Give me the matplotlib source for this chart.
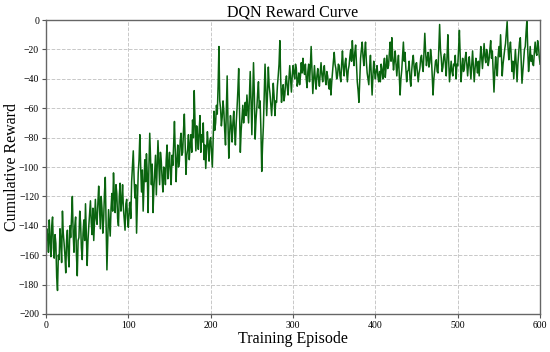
import matplotlib
matplotlib.use("Agg")
import matplotlib.pyplot as plt

# Episodes 0..600
episodes = list(range(0, 601))

rewards = [
    # 0-19
    -155, -142, -147, -158, -136, -150, -161, -140, -134, -155,
    -162, -146, -152, -175, -184, -160, -163, -142, -150, -165,
    # 20-39
    -130, -145, -152, -160, -172, -150, -143, -160, -168, -140,
    -148, -135, -120, -145, -158, -140, -134, -160, -174, -150,
    # 40-59
    -148, -130, -138, -155, -163, -145, -136, -150, -125, -145,
    -167, -150, -140, -132, -123, -138, -146, -128, -150, -135,
    # 60-79
    -122, -135, -139, -125, -113, -128, -142, -120, -128, -145,
    -136, -118, -107, -140, -170, -150, -129, -138, -147, -128,
    # 80-99
    -118, -130, -104, -120, -131, -112, -118, -135, -140, -120,
    -111, -130, -124, -112, -128, -136, -143, -125, -122, -135,
    # 100-119
    -141, -130, -124, -135, -110, -100, -89, -108, -121, -112,
    -145, -125, -104, -95, -78, -100, -117, -102, -130, -112,
    # 120-139
    -95, -110, -91, -105, -131, -100, -77, -95, -112, -98,
    -131, -115, -104, -92, -119, -100, -82, -98, -112, -90,
    # 140-159
    -96, -108, -117, -100, -101, -112, -95, -85, -108, -98,
    -90, -104, -112, -92, -99, -85, -69, -90, -110, -95,
    # 160-179
    -85, -100, -96, -82, -77, -92, -90, -75, -64, -85,
    -105, -92, -88, -78, -95, -85, -78, -90, -68, -80,
    # 180-199
    -48, -70, -89, -72, -79, -88, -75, -65, -90, -78,
    -83, -70, -95, -85, -101, -88, -76, -85, -96, -82,
    # 200-219
    -80, -90, -100, -80, -62, -75, -70, -58, -64, -45,
    -18, -55, -60, -72, -66, -55, -62, -75, -85, -60,
    # 220-239
    -38, -70, -94, -78, -65, -72, -83, -70, -62, -75,
    -85, -70, -60, -48, -33, -62, -90, -75, -66, -58,
    # 240-259
    -70, -62, -56, -65, -51, -60, -70, -52, -35, -55,
    -78, -55, -29, -50, -81, -68, -60, -50, -42, -60,
    # 260-279
    -55, -75, -103, -85, -72, -50, -30, -48, -65, -50,
    -32, -45, -50, -58, -65, -55, -43, -52, -65, -55,
    # 280-299
    -56, -45, -38, -30, -14, -40, -56, -48, -44, -55,
    -51, -42, -38, -46, -51, -40, -31, -40, -49, -38,
    # 300-319
    -31, -36, -40, -30, -33, -45, -42, -36, -44, -38,
    -29, -36, -26, -34, -37, -30, -40, -46, -35, -30,
    # 320-339
    -42, -32, -18, -35, -50, -40, -31, -40, -47, -38,
    -33, -40, -45, -36, -29, -37, -42, -35, -31, -40,
    # 340-359
    -44, -35, -38, -44, -47, -40, -51, -42, -35, -28,
    -22, -30, -33, -40, -38, -30, -31, -38, -42, -30,
    # 360-379
    -21, -32, -38, -30, -26, -35, -42, -34, -31, -25,
    -20, -28, -14, -25, -31, -22, -17, -30, -42, -48,
    # 380-399
    -56, -40, -26, -20, -15, -25, -31, -22, -15, -28,
    -36, -40, -44, -32, -24, -38, -51, -38, -28, -35,
    # 400-419
    -40, -34, -31, -38, -42, -35, -42, -30, -34, -40,
    -31, -26, -39, -32, -24, -33, -31, -22, -15, -28,
    # 420-439
    -12, -25, -34, -28, -21, -30, -38, -30, -24, -38,
    -51, -40, -34, -25, -15, -28, -22, -33, -42, -35,
    # 440-459
    -34, -28, -40, -45, -35, -28, -24, -32, -38, -30,
    -29, -36, -42, -36, -33, -26, -24, -31, -35, -22,
    # 460-479
    -9, -22, -31, -26, -22, -32, -29, -20, -25, -38,
    -51, -40, -34, -28, -27, -35, -36, -20, -3, -20,
    # 480-499
    -26, -35, -32, -25, -23, -30, -38, -25, -10, -28,
    -42, -35, -28, -35, -38, -30, -31, -24, -40, -30,
    # 500-519
    -31, -20, -7, -25, -42, -33, -26, -35, -33, -26,
    -22, -30, -38, -30, -25, -33, -40, -30, -21, -32,
    # 520-539
    -42, -33, -26, -30, -36, -28, -38, -28, -18, -25,
    -33, -24, -16, -25, -29, -20, -23, -31, -27, -20,
    # 540-559
    -14, -26, -21, -35, -49, -35, -25, -32, -38, -25,
    -18, -25, -10, -25, -38, -30, -25, -20, -16, -8,
    # 560-579
    -1, -18, -27, -20, -15, -25, -35, -28, -40, -30,
    -20, -30, -42, -30, -22, -15, -12, -28, -43, -35,
    # 580-600
    -28, -20, -18, -8, 0, -20, -35, -28, -18, -28,
    -24, -30, -31, -22, -15, -22, -24, -14, -18, -25,
    -30,
]

x_ticks = [0, 100, 200, 300, 400, 500, 600]
y_ticks = [-200, -180, -160, -140, -120, -100, -80, -60, -40, -20, 0]

plt.rcParams['font.family'] = ['Liberation Serif', 'DejaVu Serif']
plt.rcParams['axes.unicode_minus'] = True

fig = plt.figure(figsize=(5.5, 3.52), dpi=100)
ax = fig.add_axes([0.0836, 0.108, 0.8984, 0.835])

ax.plot(episodes, rewards, color='#0a640f', linewidth=1.1)

ax.set_xlim(0, 600)
ax.set_ylim(-200, 0)
ax.set_xticks(x_ticks)
ax.set_yticks(y_ticks)
ax.tick_params(labelsize=7, length=3, width=0.8, color='#555555', pad=2)
ax.grid(True, linestyle='--', color='#c8c8c8', linewidth=0.7)
for s in ax.spines.values():
    s.set_color('#666666')
    s.set_linewidth(1.0)

ax.set_title('DQN Reward Curve', fontsize=11.5, pad=2)
ax.set_xlabel('Training Episode', fontsize=11.5, labelpad=1)
ax.set_ylabel('Cumulative Reward', fontsize=11.5)
ax.yaxis.set_label_coords(-0.052, 0.5)

fig.savefig('out.png', dpi=100)
